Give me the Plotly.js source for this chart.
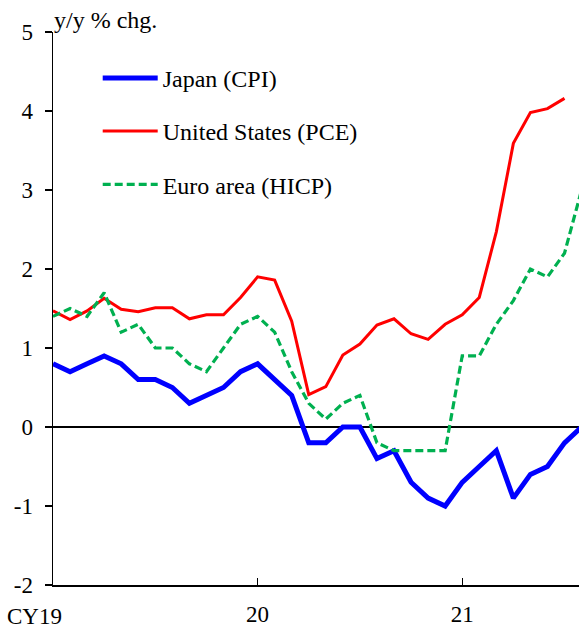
<!DOCTYPE html>
<html>
<head>
<meta charset="utf-8">
<script src="https://cdn.plot.ly/plotly-3.0.1.min.js"></script>
<style>html,body{margin:0;padding:0;background:#fff;}#chart{width:579px;height:630px;}</style>
</head>
<body>
<div id="chart"></div>
<script>
// Months Jan 2019 .. Aug 2021
const months = ["2019-01","2019-02","2019-03","2019-04","2019-05","2019-06","2019-07","2019-08","2019-09","2019-10","2019-11","2019-12",
                "2020-01","2020-02","2020-03","2020-04","2020-05","2020-06","2020-07","2020-08","2020-09","2020-10","2020-11","2020-12",
                "2021-01","2021-02","2021-03","2021-04","2021-05","2021-06","2021-07","2021-08"];
const japanCPI = [0.8,0.7,0.8,0.9,0.8,0.6,0.6,0.5,0.3,0.4,0.5,0.7,
                  0.8,0.6,0.4,-0.2,-0.2,0.0,0.0,-0.4,-0.3,-0.7,-0.9,-1.0,
                  -0.7,-0.5,-0.3,-0.9,-0.6,-0.5,-0.2,0.0];
const usPCE = [1.47,1.36,1.47,1.63,1.49,1.46,1.51,1.51,1.37,1.42,1.42,1.64,
               1.90,1.86,1.34,0.41,0.51,0.91,1.05,1.29,1.37,1.18,1.11,1.30,
               1.42,1.64,2.47,3.59,3.98,4.03,4.16];
const euroHICP = [1.4,1.5,1.4,1.7,1.2,1.3,1.0,1.0,0.8,0.7,1.0,1.3,
                  1.4,1.2,0.7,0.3,0.1,0.3,0.4,-0.2,-0.3,-0.3,-0.3,-0.3,
                  0.9,0.9,1.3,1.6,2.0,1.9,2.2,3.0];
const seriesNames = ["Japan (CPI)","United States (PCE)","Euro area (HICP)"];
const xTickVals = ["2020-01","2021-01"];
const xTickText = ["20","21"];
const firstTickLabel = "CY19";
const yTickVals = [-2,-1,0,1,2,3,4,5];
const yUnit = "y/y % chg.";

const FONT = "Liberation Serif";

const traces = [
  {x: months.slice(0, japanCPI.length), y: japanCPI, name: seriesNames[0], type: "scatter", mode: "lines",
   line: {color: "#0000FF", width: 5}, legendgroup: "a"},
  {x: months.slice(0, usPCE.length), y: usPCE, name: seriesNames[1], type: "scatter", mode: "lines",
   line: {color: "#FF0000", width: 3}, legendgroup: "b"},
  {x: months.slice(0, euroHICP.length), y: euroHICP, name: seriesNames[2], type: "scatter", mode: "lines",
   line: {color: "#00B050", width: 3.2, dash: "8px,4px"}, legendgroup: "c"}
];

const layout = {
  width: 579, height: 630,
  margin: {l: 53, r: 0, t: 32, b: 45},
  paper_bgcolor: "#fff", plot_bgcolor: "#fff",
  font: {family: FONT, size: 23, color: "#000"},
  showlegend: true,
  legend: {x: 0.085, xanchor: "left", y: 0.957, yanchor: "top", bgcolor: "rgba(0,0,0,0)",
           font: {family: FONT, size: 24, color: "#000"}, tracegroupgap: 19, itemwidth: 55,
           traceorder: "grouped"},
  xaxis: {type: "category", categoryorder: "array", categoryarray: months,
          range: [0, 30.85], showgrid: false, zeroline: false,
          showline: true, linecolor: "#000", linewidth: 1.5,
          ticks: "inside", ticklen: 7, tickwidth: 1.3, tickcolor: "#000",
          tickvals: xTickVals, ticktext: xTickText, ticklabelstandoff: 8,
          tickfont: {family: FONT, size: 23, color: "#000"}},
  yaxis: {range: [-2, 5], showgrid: false, zeroline: true, zerolinecolor: "#000", zerolinewidth: 1.5,
          showline: true, linecolor: "#000", linewidth: 1.5,
          ticks: "outside", ticklen: 7, tickwidth: 1.3, tickcolor: "#000",
          tickvals: yTickVals, ticktext: yTickVals.map(String), ticklabelstandoff: 7,
          tickfont: {family: FONT, size: 23, color: "#000"}},
  annotations: [
    {text: yUnit, xref: "paper", yref: "paper", x: 0, y: 1, xanchor: "left", yanchor: "bottom",
     showarrow: false, font: {family: FONT, size: 24, color: "#000"}, xshift: -1, yshift: -3},
    {text: firstTickLabel, xref: "paper", yref: "paper", x: 0, y: 0, xanchor: "center", yanchor: "top",
     showarrow: false, font: {family: FONT, size: 23, color: "#000"}, xshift: -19, yshift: -17}
  ]
};

Plotly.newPlot("chart", traces, layout, {displayModeBar: false, staticPlot: true});
</script>
</body>
</html>
